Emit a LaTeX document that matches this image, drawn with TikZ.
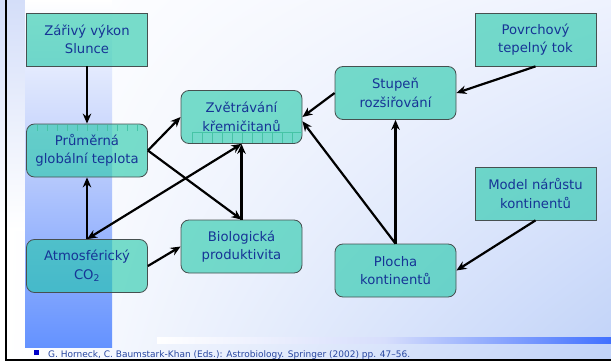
\documentclass[tikz,border=0pt]{standalone}
\usepackage{fontspec}
\setmainfont{DejaVu Sans}
\usetikzlibrary{arrows.meta,calc,shadings}
\definecolor{txtblue}{RGB}{22,52,150}
\definecolor{reftxt}{RGB}{40,70,160}
\definecolor{nodefill}{RGB}{32,200,168}
\definecolor{nodeline}{RGB}{70,80,80}
\definecolor{bandbot}{RGB}{100,146,255}
\definecolor{bandmid}{RGB}{190,206,252}
\definecolor{stripblue}{RGB}{212,222,249}
\definecolor{bgbr}{RGB}{192,210,248}
\definecolor{bgtr}{RGB}{238,242,254}
\definecolor{linebl}{RGB}{64,112,255}
\definecolor{tickc}{RGB}{70,196,166}
\tikzset{
  box/.style={draw=nodeline, line width=0.8pt, fill=nodefill, fill opacity=0.6, text opacity=1,
    text=txtblue, minimum width=121pt, minimum height=53pt, align=center,
    font=\fontsize{13.2}{18.5}\selectfont, inner sep=0pt},
  rbox/.style={box, rounded corners=8pt},
  conn/.style={line width=2.2pt, -{Stealth[length=10pt,width=8.5pt]}},
  dconn/.style={line width=2.2pt, {Stealth[length=10pt,width=8.5pt]}-{Stealth[length=10pt,width=8.5pt]}},
  tick/.style={draw=tickc, line width=0.5pt}
}
\begin{document}
\begin{tikzpicture}[x=1pt,y=-1pt]
\useasboundingbox (0,0) rectangle (611,361);
% background
\fill[white] (0,0) rectangle (611,361);
\shade[upper left=white, upper right=bgtr, lower left=white, lower right=bgbr] (7,0) rectangle (611,359);
\shade[top color=stripblue, bottom color=white] (0,0) rectangle (25,230);
\shade[top color=white, bottom color=bandmid] (25,0) rectangle (112,160);
\shade[top color=bandmid, bottom color=bandbot] (25,160) rectangle (112,347);
\shade[left color=white, right color=linebl, middle color={rgb,255:red,215;green,222;blue,252}] (157,337) rectangle (611,343);
\draw[line width=2pt] (6,0) -- (6,360.5);
\draw[line width=1.5pt] (5,359.8) -- (611,359.8);
% nodes
\node[box]  (sun)  at (87,39.5)    {Zářivý výkon\\Slunce};
\node[rbox] (temp) at (87,150.5)   {Průměrná\\globální teplota};
\node[rbox] (co2)  at (87,266)     {Atmosférický\\CO\textsubscript{2}};
\node[rbox] (bio)  at (241.5,246.5){Biologická\\produktivita};
\node[rbox] (weat) at (241.5,117)  {Zvětrávání\\křemičitanů};
\node[rbox] (rate) at (395.5,93)   {Stupeň\\rozšiřování};
\node[box]  (heat) at (535.5,39.5) {Povrchový\\tepelný tok};
\node[box]  (grow) at (535.5,193.5){Model nárůstu\\kontinentů};
\node[rbox] (area) at (395.5,270.5){Plocha\\kontinentů};
% ruler ticks
\foreach \i in {0,...,10} \draw[tick] (37+\i*10,124.6) -- ++(0,6);
\draw[tick] (192,132.5) -- (301.5,132.5);
\foreach \i in {0,...,10} \draw[tick] (192+\i*10,132.5) -- (192+\i*10,143);
% connectors
\draw[conn] (sun) -- (temp);
\draw[conn] (co2) -- (temp);
\draw[conn] (temp.east) -- (weat.west);
\draw[conn] (temp.east) -- (bio.north);
\draw[conn] (co2.east) -- (bio.west);
\draw[conn] (bio.north) -- (weat.south);
\draw[dconn] (co2.north) -- (weat.south);
\draw[conn] (rate.west) -- (weat.east);
\draw[conn] (heat.south) -- (rate.east);
\draw[conn] (area.north) -- (rate.south);
\draw[conn] (area.north) -- (weat.-4);
\draw[conn] (grow.south) -- (area.east);
% footer
\node[fill={rgb,255:red,0;green,0;blue,200}, minimum size=5pt, inner sep=0pt] (bul) at (36,352.5) {};
\node[anchor=base west, inner sep=0pt, text=reftxt, font=\fontsize{9}{11}\selectfont] (ref) at (48,357.3)
  {G. Horneck, C. Baumstark-Khan (Eds.): Astrobiology. Springer (2002) pp. 47–56.};
\end{tikzpicture}
\end{document}
